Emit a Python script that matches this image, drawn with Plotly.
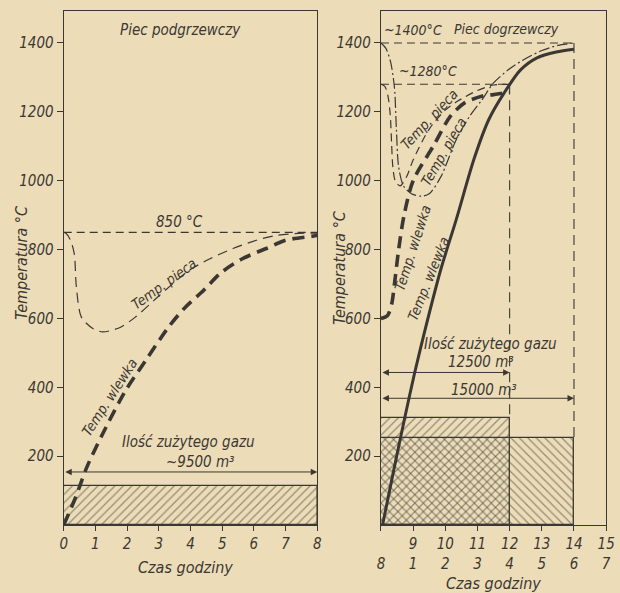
import plotly.graph_objects as go

# ---------------- data ----------------
# Left panel: "Piec podgrzewczy" (preheating furnace), time 0..8 h
L_FURN_T = [0, 0.06, 0.2, 0.33, 0.4, 0.56, 0.93, 1.23, 1.76, 2.25, 3.0, 3.95, 4.63, 5.34, 6.08, 6.7, 7.4, 8.0]
L_FURN_V = [850, 848, 830, 789, 690, 603, 570, 561, 573, 603, 665, 739, 774, 803, 827, 841, 847, 848]
L_INGOT_T = [0, 0.37, 0.72, 1.23, 1.95, 2.58, 3.3, 3.8, 4.41, 4.94, 5.65, 6.39, 7.0, 7.93, 8.0]
L_INGOT_V = [0, 79, 166, 265, 390, 477, 574, 629, 681, 731, 774, 803, 827, 840, 842]
L_SET = 850
L_GAS_H = 112          # hatched gas bar height (scaled)
L_GAS_ARROW = 154
L_HOURS = 8

# Right panel: "Piec dogrzewczy" (reheating furnace), time 0..7 h
# case A: charged at ~600 C, furnace ~1280 C, 4 h, 12500 m3
RA_FURN_T = [0, 0.12, 0.22, 0.29, 0.33, 0.37, 0.45, 0.6, 0.8, 1.0, 1.5, 2.0, 2.4, 3.0, 3.5, 4.0]
RA_FURN_V = [1280, 1274, 1245, 1190, 1110, 1040, 998, 985, 1012, 1060, 1150, 1205, 1232, 1262, 1278, 1280]
RA_INGOT_T = [0, 0.2, 0.33, 0.42, 0.55, 0.72, 1.0, 1.65, 2.15, 2.6, 3.2, 3.5, 3.85, 4.0]
RA_INGOT_V = [600, 608, 640, 700, 800, 900, 1000, 1104, 1186, 1226, 1247, 1250, 1255, 1256]
# case B: cold charge, furnace ~1400 C, 6 h, 15000 m3
RB_FURN_T = [0, 0.15, 0.3, 0.42, 0.48, 0.55, 0.7, 0.95, 1.25, 1.5, 1.86, 2.34, 2.75, 3.14, 3.5, 4.0, 4.5, 5.0, 5.5, 6.0]
RB_FURN_V = [1400, 1385, 1345, 1270, 1150, 1040, 985, 962, 955, 962, 1011, 1119, 1186, 1235, 1284, 1325, 1355, 1378, 1393, 1400]
RB_INGOT_T = [0.05, 0.4, 0.75, 1.05, 1.35, 1.86, 2.34, 2.9, 3.35, 3.83, 4.34, 4.85, 5.45, 6.0]
RB_INGOT_V = [0, 160, 316, 443, 559, 742, 887, 1065, 1177, 1255, 1322, 1357, 1374, 1382]
RA_SET, RB_SET = 1280, 1400
RA_HOURS, RB_HOURS = 4, 6
RA_GAS_H, RB_GAS_H = 312, 252
RA_GAS_ARROW, RB_GAS_ARROW = 443, 368

L_XTICKS = [0, 1, 2, 3, 4, 5, 6, 7, 8]
R_XTICKS = [0, 1, 2, 3, 4, 5, 6, 7]
R_CLOCK = ["", "9", "10", "11", "12", "13", "14", "15"]
R_ELAPSED = ["8", "1", "2", "3", "4", "5", "6", "7"]
Y_TICKS = [200, 400, 600, 800, 1000, 1200, 1400]

# ---------------- style ----------------
BG = "#ECDDB8"
INK = "#3b3733"
FONT = "DejaVu Sans Condensed, Liberation Sans Narrow, Arial Narrow, Roboto, sans-serif"

fig = go.Figure()

def line(x, y, xa, ya, width, dash, shape="spline"):
    fig.add_trace(go.Scatter(x=x, y=y, xaxis=xa, yaxis=ya, mode="lines",
                             line=dict(color=INK, width=width, dash=dash, shape=shape, smoothing=0.8),
                             showlegend=False, hoverinfo="skip"))

def gasbar(hours, h, xa, ya, pat):
    fig.add_trace(go.Bar(x=[hours / 2], y=[h], width=[hours], xaxis=xa, yaxis=ya,
                         marker=dict(color="rgba(0,0,0,0)", line=dict(color=INK, width=1.3),
                                     pattern=dict(shape=pat, fgcolor=INK, bgcolor="rgba(0,0,0,0)",
                                                  size=6, solidity=0.2)),
                         showlegend=False, hoverinfo="skip"))

# left panel
gasbar(L_HOURS, L_GAS_H, "x", "y", "/")
line([0, L_HOURS], [L_SET, L_SET], "x", "y", 1.1, "8px,5px", "linear")
line(L_FURN_T, L_FURN_V, "x", "y", 1.2, "10px,6px")
line(L_INGOT_T, L_INGOT_V, "x", "y", 3.6, "12px,7px")

# right panel
gasbar(RB_HOURS, RB_GAS_H, "x2", "y2", "\\")
gasbar(RA_HOURS, RA_GAS_H, "x2", "y2", "/")
line([0, RB_HOURS], [RB_SET, RB_SET], "x2", "y2", 1.1, "8px,5px", "linear")
line([0, RA_HOURS], [RA_SET, RA_SET], "x2", "y2", 1.1, "8px,5px", "linear")
line([RA_HOURS, RA_HOURS], [RA_SET, RA_GAS_H], "x2", "y2", 1.1, "10px,6px", "linear")
line([RB_HOURS, RB_HOURS], [RB_SET, RB_GAS_H], "x2", "y2", 1.1, "10px,6px", "linear")
line(RA_FURN_T, RA_FURN_V, "x2", "y2", 1.2, "8px,5px")
line(RB_FURN_T, RB_FURN_V, "x2", "y2", 1.2, "11px,3px,2px,3px")
line(RA_INGOT_T, RA_INGOT_V, "x2", "y2", 3.6, "12px,7px")
line(RB_INGOT_T, RB_INGOT_V, "x2", "y2", 3.0, "solid")

tickfont = dict(family=FONT, size=15, color=INK, style="italic")
yax = dict(range=[0, 1493], tickvals=Y_TICKS, ticks="outside", ticklen=6, tickwidth=1,
           tickcolor=INK, showline=True, linecolor=INK, linewidth=1.3, mirror=True,
           showgrid=False, zeroline=False, tickfont=tickfont, domain=[0.1147, 0.9815])
fig.update_layout(
    width=620, height=593, margin=dict(l=0, r=0, t=0, b=0),
    paper_bgcolor=BG, plot_bgcolor=BG, barmode="overlay", bargap=0,
    xaxis=dict(range=[0, 8], domain=[0.0984, 0.5161], tickvals=L_XTICKS, ticks="outside",
               ticklen=5, tickcolor=INK, showline=True, linecolor=INK, linewidth=1.3, mirror=True,
               showgrid=False, zeroline=False, tickfont=tickfont, anchor="y"),
    yaxis=dict(yax, anchor="x"),
    xaxis2=dict(range=[0, 7], domain=[0.621, 0.992], tickvals=R_XTICKS,
                ticktext=[f"{c}<br>{e}" if c else f" <br>{e}" for c, e in zip(R_CLOCK, R_ELAPSED)],
                ticks="outside", ticklen=5, tickcolor=INK, showline=True, linecolor=INK, linewidth=1.3,
                mirror=True, showgrid=False, zeroline=False, tickfont=tickfont, anchor="y2"),
    yaxis2=dict(yax, anchor="x2"),
)

def txt(x, y, s, xr="x", yr="y", size=14, angle=0):
    fig.add_annotation(x=x, y=y, xref=xr, yref=yr, text=s, showarrow=False, textangle=angle,
                       xanchor="center", yanchor="middle",
                       font=dict(family=FONT, size=size, color=INK, style="italic"))

def darrow(x0, x1, y, xr, yr):
    fig.add_annotation(x=x1, y=y, ax=x0, ay=y, xref=xr, yref=yr, axref=xr, ayref=yr, text="",
                       showarrow=True, arrowhead=2, arrowside="end+start", arrowsize=1.3,
                       arrowwidth=1, arrowcolor=INK, standoff=0, startstandoff=0)

# left annotations
txt(3.7, 1438, "Piec podgrzewczy", size=15)
txt(3.65, 880, "850 °C", size=15)
txt(3.15, 700, "Temp. pieca", size=14, angle=-36)
txt(1.45, 372, "Temp. wlewka", size=14, angle=-57)
txt(3.95, 240, "Ilość zużytego gazu", size=15)
txt(4.3, 182, "~9500 m³", size=15)
darrow(0, L_HOURS, L_GAS_ARROW, "x", "y")

# right annotations
txt(1.0, 1438, "~1400°C", "x2", "y2", size=14)
txt(3.9, 1440, "Piec dogrzewczy", "x2", "y2", size=14)
txt(1.45, 1318, "~1280°C", "x2", "y2", size=14)
txt(1.5, 1180, "Temp. pieca", "x2", "y2", size=14, angle=-47)
txt(1.97, 1085, "Temp. pieca", "x2", "y2", size=14, angle=-60)
txt(0.98, 805, "Temp. wlewka", "x2", "y2", size=14, angle=-72)
txt(1.47, 715, "Temp. wlewka", "x2", "y2", size=14, angle=-68)
txt(3.4, 525, "Ilość zużytego gazu", "x2", "y2", size=15)
txt(3.1, 474, "12500 m³", "x2", "y2", size=15)
txt(3.2, 392, "15000 m³", "x2", "y2", size=15)
darrow(0, RA_HOURS, RA_GAS_ARROW, "x2", "y2")
darrow(0, RB_HOURS, RB_GAS_ARROW, "x2", "y2")

# axis titles
for xp, yp in [(17 / 620, (593 - 262) / 593), (342 / 620, (593 - 267) / 593)]:
    fig.add_annotation(x=xp, y=yp, xref="paper", yref="paper", text="Temperatura °C",
                       textangle=-90, showarrow=False, xanchor="center", yanchor="middle",
                       font=dict(family=FONT, size=16, color=INK, style="italic"))
for xp, yp in [(185 / 620, (593 - 567) / 593), (500 / 620, (593 - 583) / 593)]:
    fig.add_annotation(x=xp, y=yp, xref="paper", yref="paper", text="Czas godziny",
                       showarrow=False, xanchor="center", yanchor="middle",
                       font=dict(family=FONT, size=16, color=INK, style="italic"))

fig.write_html("out.html")
